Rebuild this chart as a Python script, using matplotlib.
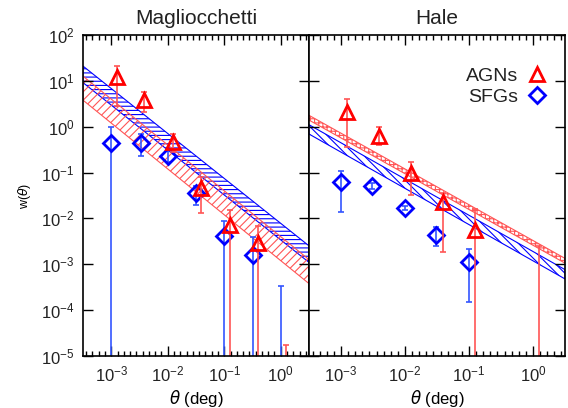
import numpy as np
import matplotlib.pyplot as plt
from matplotlib.lines import Line2D
from matplotlib.ticker import FixedLocator, NullLocator, NullFormatter

plt.rcParams['font.family'] = ['Liberation Sans', 'DejaVu Sans']
plt.rcParams['hatch.linewidth'] = 0.8
plt.rcParams['text.color'] = '#222222'

# ---- Magliocchetti panel ----
mag_agn_theta = [1.26e-3, 3.8e-3, 0.0126, 0.039, 0.128, 0.40]
mag_agn_w = [12.0, 3.9, 0.47, 0.045, 0.0072, 0.0029]
mag_agn_hi = [21.0, 5.6, 0.69, 0.08, 0.015, 0.0068]
mag_agn_lo = [2.8, 2.07, 0.28, 0.013, 1e-7, 1e-7]

mag_sfg_theta = [1.0e-3, 3.3e-3, 0.0103, 0.032, 0.10, 0.32]
mag_sfg_w = [0.44, 0.44, 0.23, 0.035, 0.0041, 0.0016]
mag_sfg_hi = [0.97, 0.69, 0.30, 0.05, 0.0089, 0.004]
mag_sfg_lo = [1e-7, 0.23, 0.17, 0.0195, 1e-7, 1e-7]

# points whose value falls below the plot: only the upper error is visible
mag_agn_lim_theta = [1.25]
mag_agn_lim_hi = [1.7e-5]
mag_sfg_lim_theta = [1.0]
mag_sfg_lim_hi = [3.3e-4]

# power-law bands w = A * theta**slope  (upper / lower amplitude)
mag_agn_band = dict(amp_hi=4.0e-3, amp_lo=1.2e-3, slope=-1.0)
mag_sfg_band = dict(amp_hi=7.8e-3, amp_lo=3.4e-3, slope=-0.98)

# ---- Hale panel ----
hale_agn_theta = [1.26e-3, 3.9e-3, 0.0126, 0.039, 0.126]
hale_agn_w = [2.1, 0.64, 0.10, 0.023, 0.0056]
hale_agn_hi = [4.1, 0.97, 0.17, 0.035, 0.016]
hale_agn_lo = [0.36, 0.39, 0.032, 0.0019, 1e-7]

hale_sfg_theta = [1.0e-3, 3.1e-3, 0.010, 0.031, 0.10]
hale_sfg_w = [0.063, 0.052, 0.017, 0.0044, 0.0011]
hale_sfg_hi = [0.11, 0.06, 0.019, 0.0066, 0.0022]
hale_sfg_lo = [0.014, 0.044, 0.015, 0.0025, 1.5e-4]

hale_agn_lim_theta = [1.23]
hale_agn_lim_hi = [0.0025]

hale_agn_band = dict(amp_hi=3.3e-3, amp_lo=2.6e-3, slope=-0.78)
hale_sfg_band = dict(amp_hi=1.9e-3, amp_lo=1.19e-3, slope=-0.79)

x_decades = 10.0 ** np.arange(-3, 1)
y_decades = 10.0 ** np.arange(-5, 3)

RED = '#ff0000'
RED_ERR = '#ff5555'
BLUE = '#0000ff'
BLUE_ERR = '#3355ff'


def draw_band(ax, band, color, hatch):
    t = np.logspace(-3.5, 0.5, 60)
    hi = band['amp_hi'] * t ** band['slope']
    lo = band['amp_lo'] * t ** band['slope']
    ax.fill_between(t, lo, hi, facecolor='none', edgecolor=color,
                    hatch=hatch, linewidth=0.8)


def draw_points(ax, theta, w, lo, hi, color, ecolor, marker, ms):
    w = np.array(w)
    yerr = [w - np.array(lo), np.array(hi) - w]
    ax.errorbar(theta, w, yerr=yerr, fmt='none', ecolor=ecolor,
                elinewidth=1.2, capsize=2.5, capthick=1.2)
    ax.plot(theta, w, ls='none', marker=marker, ms=ms, mfc='none',
            mec=color, mew=2)


def draw_limits(ax, theta, hi, ecolor):
    ax.errorbar(theta, hi, yerr=[np.array(hi) - 1e-7, np.zeros(len(hi))],
                fmt='none', ecolor=ecolor, elinewidth=1.2, capsize=2.5,
                capthick=1.2)


def style_axes(ax):
    ax.set_xscale('log')
    ax.set_yscale('log')
    ax.set_xlim(10 ** -3.5, 10 ** 0.5)
    ax.set_ylim(1e-5, 1e2)
    ax.xaxis.set_major_locator(FixedLocator(x_decades))
    ax.xaxis.set_minor_locator(FixedLocator(10 ** (np.arange(-31, 5) / 9)))
    ax.xaxis.set_minor_formatter(NullFormatter())
    ax.yaxis.set_major_locator(FixedLocator(y_decades))
    ax.yaxis.set_minor_locator(NullLocator())
    ax.yaxis.set_minor_formatter(NullFormatter())
    ax.tick_params(which='both', direction='in', top=True, right=True,
                   labelsize=12, width=1, labelcolor='#222222')
    ax.tick_params(which='major', length=7, pad=6)
    ax.tick_params(which='minor', length=3.5)
    for s in ax.spines.values():
        s.set_linewidth(1.2)
    ax.set_xlabel(r'$\theta$ (deg)', fontsize=12, labelpad=3)


fig = plt.figure(figsize=(5.68, 4.08), dpi=100)
axL = fig.add_axes([83 / 568, 52 / 408, 226 / 568, 321 / 408])
axR = fig.add_axes([309 / 568, 52 / 408, 256 / 568, 321 / 408])

# left panel
draw_band(axL, mag_sfg_band, BLUE, '----')
draw_band(axL, mag_agn_band, RED_ERR, '////')
draw_points(axL, mag_sfg_theta, mag_sfg_w, mag_sfg_lo, mag_sfg_hi, BLUE, BLUE_ERR, 'D', 8)
draw_points(axL, mag_agn_theta, mag_agn_w, mag_agn_lo, mag_agn_hi, RED, RED_ERR, '^', 10)
draw_limits(axL, mag_agn_lim_theta, mag_agn_lim_hi, RED_ERR)
draw_limits(axL, mag_sfg_lim_theta, mag_sfg_lim_hi, BLUE_ERR)
style_axes(axL)
axL.set_title('Magliocchetti', fontsize=15, pad=8)
axL.set_ylabel(r'w($\theta$)', fontsize=9, labelpad=6)

# right panel
draw_band(axR, hale_sfg_band, BLUE, '\\\\\\\\')
draw_band(axR, hale_agn_band, RED_ERR, '++++')
draw_points(axR, hale_sfg_theta, hale_sfg_w, hale_sfg_lo, hale_sfg_hi, BLUE, BLUE_ERR, 'D', 8)
draw_points(axR, hale_agn_theta, hale_agn_w, hale_agn_lo, hale_agn_hi, RED, RED_ERR, '^', 10)
draw_limits(axR, hale_agn_lim_theta, hale_agn_lim_hi, RED_ERR)
style_axes(axR)
axR.tick_params(labelleft=False)
axR.set_title('Hale', fontsize=15, pad=8)

handles = [
    Line2D([], [], ls='none', marker='^', ms=10, mfc='none', mec=RED, mew=2),
    Line2D([], [], ls='none', marker='D', ms=8, mfc='none', mec=BLUE, mew=2),
]
axR.legend(handles, ['AGNs', 'SFGs'], loc='upper right', markerfirst=False,
           frameon=False, fontsize=14, handlelength=1.0, handletextpad=0.5,
           labelspacing=0.2, borderaxespad=0, borderpad=0,
           bbox_to_anchor=(0.93, 0.90))

fig.savefig('out.png', dpi=100)
